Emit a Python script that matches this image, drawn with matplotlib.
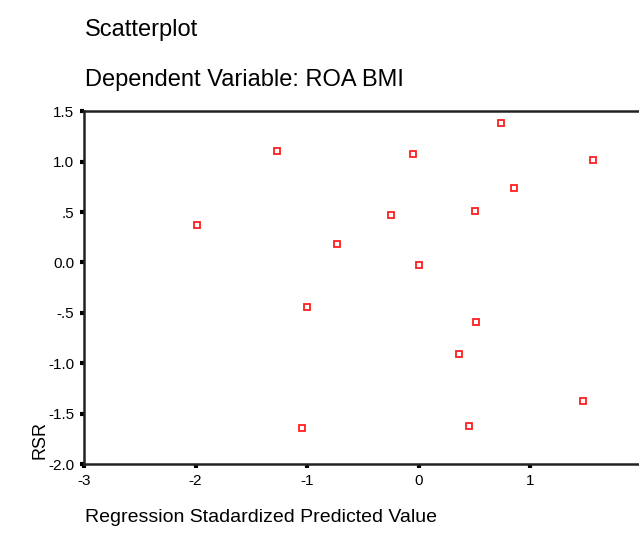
import matplotlib
matplotlib.use('Agg')
import matplotlib.pyplot as plt

plt.rcParams['font.family'] = ['Liberation Sans', 'DejaVu Sans']
plt.rcParams['axes.unicode_minus'] = False

# predicted (x) vs residual (y)
pred = [-1.99, -1.27, -0.73, -1.00, -1.05, -0.25, -0.05, 0.00,
        0.50, 0.74, 0.85, 1.56, 0.51, 0.36, 0.45, 1.47]
resid = [0.37, 1.11, 0.18, -0.44, -1.64, 0.47, 1.08, -0.03,
         0.51, 1.38, 0.74, 1.02, -0.59, -0.91, -1.62, -1.37]

y_ticks = [1.5, 1.0, 0.5, 0.0, -0.5, -1.0, -1.5, -2.0]
y_labels = ['1.5', '1.0', '.5', '0.0', '-.5', '-1.0', '-1.5', '-2.0']
x_ticks = [-3, -2, -1, 0, 1, 2]
x_labels = ['-3', '-2', '-1', '0', '1', '']   # "2" sits on the cropped edge

W, H = 639, 539
fig = plt.figure(figsize=(W / 100, H / 100), dpi=100)

# axes runs past the right edge of the picture (cropped like the original)
left, right, top, bottom = 84, 753.6, 111.3, 464
ax = fig.add_axes([left / W, 1 - bottom / H, (right - left) / W, (bottom - top) / H])

ax.plot(pred, resid, 's', ls='none', ms=5, mfc='white', mec='#ff2020', mew=1.3)

ax.set_xlim(-3, 3)
ax.set_ylim(-2.0, 1.5)
ax.set_xticks(x_ticks)
ax.set_xticklabels(x_labels)
ax.set_yticks(y_ticks)
ax.set_yticklabels(y_labels)
ax.tick_params(direction='out', length=3, width=3, labelsize=11, colors='black', pad=4)
for s in ax.spines.values():
    s.set_linewidth(1.8)
    s.set_color('#222222')

fig.text(85 / W, 1 - 30 / H, 'Scatterplot', fontsize=17, va='center', ha='left')
fig.text(85 / W, 1 - 80 / H, 'Dependent Variable: ROA BMI', fontsize=17, va='center', ha='left')
fig.text(85 / W, 1 - 518 / H, 'Regression Stadardized Predicted Value', fontsize=14, va='center', ha='left')
fig.text(40 / W, 1 - 440 / H, 'RSR', fontsize=13, va='center', ha='center', rotation=90)

fig.savefig('out.png', dpi=100)
